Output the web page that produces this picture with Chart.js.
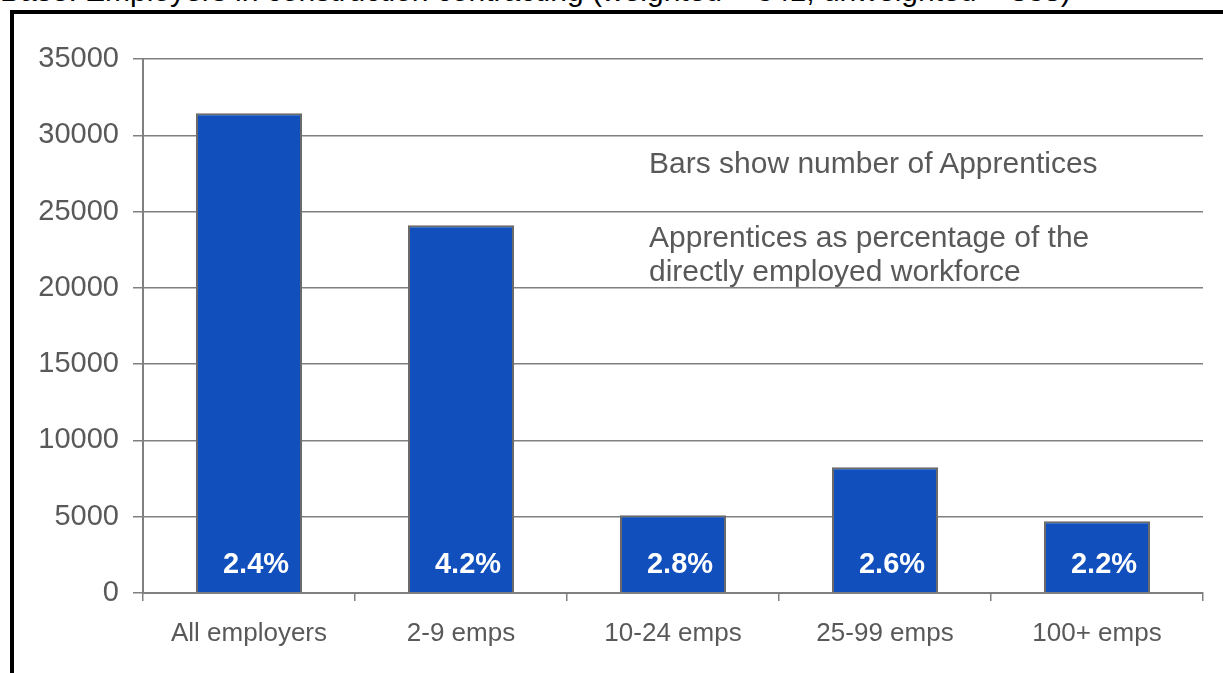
<!DOCTYPE html>
<html lang="en">
<head>
    <meta charset="UTF-8">
    <title>Apprentices by size of employer</title>
    <script src="https://cdn.jsdelivr.net/npm/chart.js"></script>
    <style>
        html, body { margin: 0; padding: 0; background: #fff; overflow: hidden; }
        body { width: 1223px; height: 673px; position: relative; font-family: "Liberation Sans", Arial, sans-serif; }
        .base { position: absolute; left: 0; top: -26px; font-size: 30px; line-height: 34px; color: #000; white-space: nowrap; }
        .frame { position: absolute; left: 10px; top: 10px; width: 1400px; height: 900px; border: 4px solid #000; }
        .chart-container { position: absolute; left: 0; top: 0; width: 1223px; height: 673px; }
        .note { position: absolute; left: 649px; font-size: 30px; line-height: 34px; color: #595959; white-space: nowrap; }
    </style>
</head>
<body>
    <div class="base">Base: Employers in construction contracting (weighted = 341, unweighted = 838)</div>
    <div class="frame"></div>
    <div class="chart-container">
        <canvas id="apprenticeChart" width="1223" height="673"></canvas>
    </div>
    <div class="note" style="top:146px;">Bars show number of Apprentices</div>
    <div class="note" style="top:220px;">Apprentices as percentage of the<br>directly employed workforce</div>

    <script>
        // datos
        const categories = ['All employers', '2-9 emps', '10-24 emps', '25-99 emps', '100+ emps'];
        const apprentices = [31450, 24100, 5100, 8250, 4700];
        const percentLabels = ['2.4%', '4.2%', '2.8%', '2.6%', '2.2%'];
        const yTicks = [0, 5000, 10000, 15000, 20000, 25000, 30000, 35000];

        const gray = '#808080';
        const textGray = '#595959';
        const fontFamily = '"Liberation Sans", Arial, sans-serif';

        // porcentajes dentro de cada barra
        const percentPlugin = {
            id: 'percentPlugin',
            afterDatasetsDraw(chart) {
                const ctx = chart.ctx;
                const meta = chart.getDatasetMeta(0);
                const yScale = chart.scales.y;
                ctx.save();
                ctx.fillStyle = '#ffffff';
                ctx.font = 'bold 29px ' + fontFamily;
                ctx.textAlign = 'center';
                ctx.textBaseline = 'middle';
                meta.data.forEach((bar, i) => {
                    ctx.fillText(percentLabels[i], bar.x + 7, yScale.bottom - 28);
                });
                ctx.restore();
            }
        };

        const ctx = document.getElementById('apprenticeChart').getContext('2d');
        new Chart(ctx, {
            type: 'bar',
            data: {
                labels: categories,
                datasets: [{
                    label: 'Apprentices',
                    data: apprentices,
                    backgroundColor: '#114fbd',
                    borderColor: '#6a6a6a',
                    borderWidth: 2,
                    barPercentage: 0.5,
                    categoryPercentage: 1.0
                }]
            },
            options: {
                responsive: false,
                animation: false,
                layout: { padding: { left: 0, right: 20, top: 59, bottom: 0 } },
                plugins: {
                    legend: { display: false },
                    tooltip: { enabled: false }
                },
                scales: {
                    y: {
                        min: 0,
                        max: 35000,
                        afterFit: s => { s.width = 143; },
                        afterBuildTicks: s => { s.ticks = yTicks.map(v => ({ value: v })); },
                        border: { color: gray, width: 2 },
                        grid: { color: gray, lineWidth: 1.5, tickLength: 10 },
                        ticks: {
                            padding: 14,
                            color: textGray,
                            font: { family: fontFamily, size: 29 },
                            callback: v => String(v)
                        }
                    },
                    x: {
                        afterFit: s => { s.height = 80; },
                        border: { color: gray, width: 2 },
                        grid: { offset: true, drawOnChartArea: false, color: gray, lineWidth: 1.5, tickLength: 8 },
                        ticks: {
                            padding: 17,
                            color: textGray,
                            font: { family: fontFamily, size: 26 }
                        }
                    }
                }
            },
            plugins: [percentPlugin]
        });
    </script>
</body>
</html>
